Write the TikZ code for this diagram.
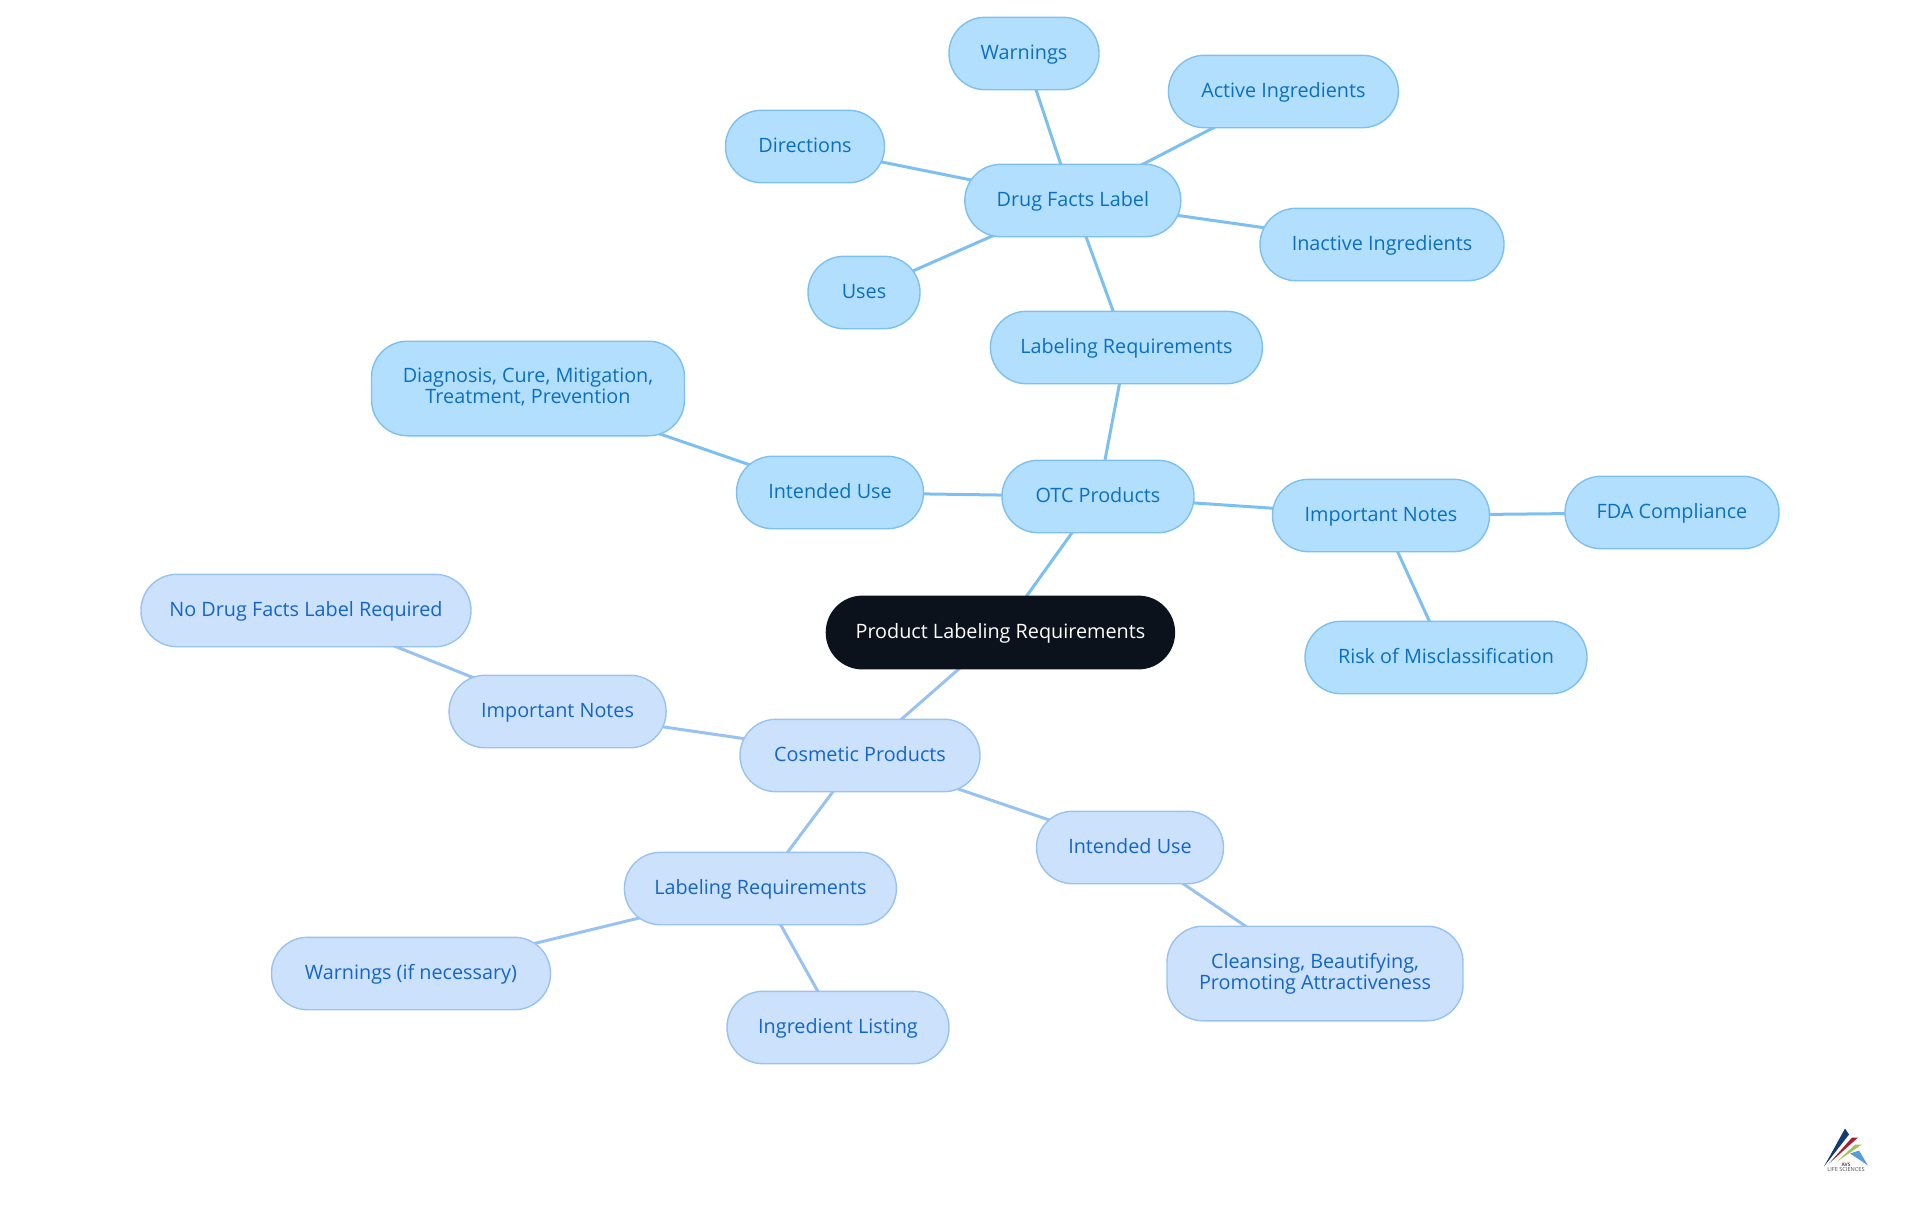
\documentclass[tikz,border=0pt]{standalone}
\usepackage{fontspec}
\setmainfont{Open Sans}
\usetikzlibrary{backgrounds}
\definecolor{otcfill}{HTML}{B3DFFF}
\definecolor{otcline}{HTML}{7CC0F2}
\definecolor{otctext}{HTML}{0B6FC0}
\definecolor{cosfill}{HTML}{CCE2FC}
\definecolor{cosline}{HTML}{98C2F2}
\definecolor{costext}{HTML}{1565C8}
\definecolor{rootfill}{HTML}{0B121B}
\newcommand{\topicstrut}{\rule[-2.45pt]{0pt}{10.5pt}}
\tikzstyle{topic}=[rectangle,rounded corners=18pt,line width=0.7pt,
                   inner sep=0pt,minimum height=36.2pt,align=center,
                   execute at begin node=\topicstrut,execute at end node=\topicstrut,
                   font=\fontsize{9.9}{10.5}\selectfont]
\tikzstyle{rootbox}=[topic,draw=rootfill,fill=rootfill,text=white]
\tikzstyle{otcbox}=[topic,draw=otcline,fill=otcfill,text=otctext]
\tikzstyle{cosbox}=[topic,draw=cosline,fill=cosfill,text=costext]
\tikzstyle{otcedge}=[draw=otcline,line width=1.5pt]
\tikzstyle{cosedge}=[draw=cosline,line width=1.5pt]
\begin{document}
\begin{tikzpicture}[x=0.5pt,y=-0.5pt]
    \useasboundingbox (0,-0.5) rectangle (1920,1214.5);
    \node (root) at (1000.4,632) [rootbox,minimum width=174pt]{Product Labeling Requirements};
    % OTC side
    \node (otc) at (1098,496) [otcbox,minimum width=96pt]{OTC Products};
    \node (otclabel) at (1126.4,347) [otcbox,minimum width=136pt]{Labeling Requirements};
    \node (facts) at (1072.8,200) [otcbox,minimum width=108pt]{Drug Facts Label};
    \node (warn) at (1024,53) [otcbox,minimum width=75pt]{Warnings};
    \node (active) at (1283.4,91) [otcbox,minimum width=115pt]{Active Ingredients};
    \node (direct) at (805,146) [otcbox,minimum width=79.5pt]{Directions};
    \node (inactive) at (1382,244) [otcbox,minimum width=122pt]{Inactive Ingredients};
    \node (uses) at (864,292) [otcbox,minimum width=56pt]{Uses};
    \node (otcuse) at (830,492) [otcbox,minimum width=93.5pt]{Intended Use};
    \node (diag) at (528,388) [otcbox,minimum width=156.5pt,minimum height=47.3pt]{Diagnosis, Cure, Mitigation,\\Treatment, Prevention};
    \node (otcnote) at (1381,515) [otcbox,minimum width=108.5pt]{Important Notes};
    \node (fda) at (1672,512) [otcbox,minimum width=107pt]{FDA Compliance};
    \node (risk) at (1446,657) [otcbox,minimum width=141pt]{Risk of Misclassification};
    % cosmetic side
    \node (cos) at (860,755) [cosbox,minimum width=120pt]{Cosmetic Products};
    \node (cosnote) at (557.6,711) [cosbox,minimum width=108.5pt]{Important Notes};
    \node (nofacts) at (306,610) [cosbox,minimum width=165pt]{No Drug Facts Label Required};
    \node (cosuse) at (1130,847) [cosbox,minimum width=93.5pt]{Intended Use};
    \node (clean) at (1315,973) [cosbox,minimum width=148pt,minimum height=47.3pt]{Cleansing, Beautifying,\\Promoting Attractiveness};
    \node (coslabel) at (760.4,888) [cosbox,minimum width=136pt]{Labeling Requirements};
    \node (coswarn) at (411,973) [cosbox,minimum width=139.5pt]{Warnings (if necessary)};
    \node (listing) at (838,1027) [cosbox,minimum width=111pt]{Ingredient Listing};
    \begin{scope}[on background layer]
    \draw[otcedge] (root.center) -- (otc.center) -- (otclabel.center) -- (facts.center) -- (warn.center)
        (facts.center) -- (active.center) (facts.center) -- (direct.center)
        (facts.center) -- (inactive.center) (facts.center) -- (uses.center)
        (otc.center) -- (otcuse.center) -- (diag.center)
        (otc.center) -- (otcnote.center) -- (fda.center) (otcnote.center) -- (risk.center);
    \draw[cosedge] (root.center) -- (cos.center) -- (cosnote.center) -- (nofacts.center)
        (cos.center) -- (cosuse.center) -- (clean.center)
        (cos.center) -- (coslabel.center) -- (coswarn.center) (coslabel.center) -- (listing.center);
    \end{scope}
    % logo
    \fill[fill={rgb,255:red,20;green,60;blue,110}] (1824,1166) -- (1845,1128) -- (1849,1134) -- cycle;
    \fill[fill={rgb,255:red,165;green,30;blue,50}] (1829,1163) -- (1852,1137) -- (1858,1137) -- cycle;
    \fill[fill={rgb,255:red,165;green,195;blue,90}] (1837,1161) -- (1855,1144) -- (1862,1144) -- cycle;
    \fill[fill={rgb,255:red,90;green,155;blue,220}] (1850,1153) -- (1859,1150) -- (1868,1165) -- cycle;
    \node (logoa) at (1846,1164) [inner sep=0pt,font=\fontsize{2.4}{2.4}\selectfont\bfseries,text=black!70]{AVS};
    \node (logob) at (1846,1169) [inner sep=0pt,font=\fontsize{2.8}{2.8}\selectfont,text=black!70]{LIFE SCIENCES};
\end{tikzpicture}
\end{document}
